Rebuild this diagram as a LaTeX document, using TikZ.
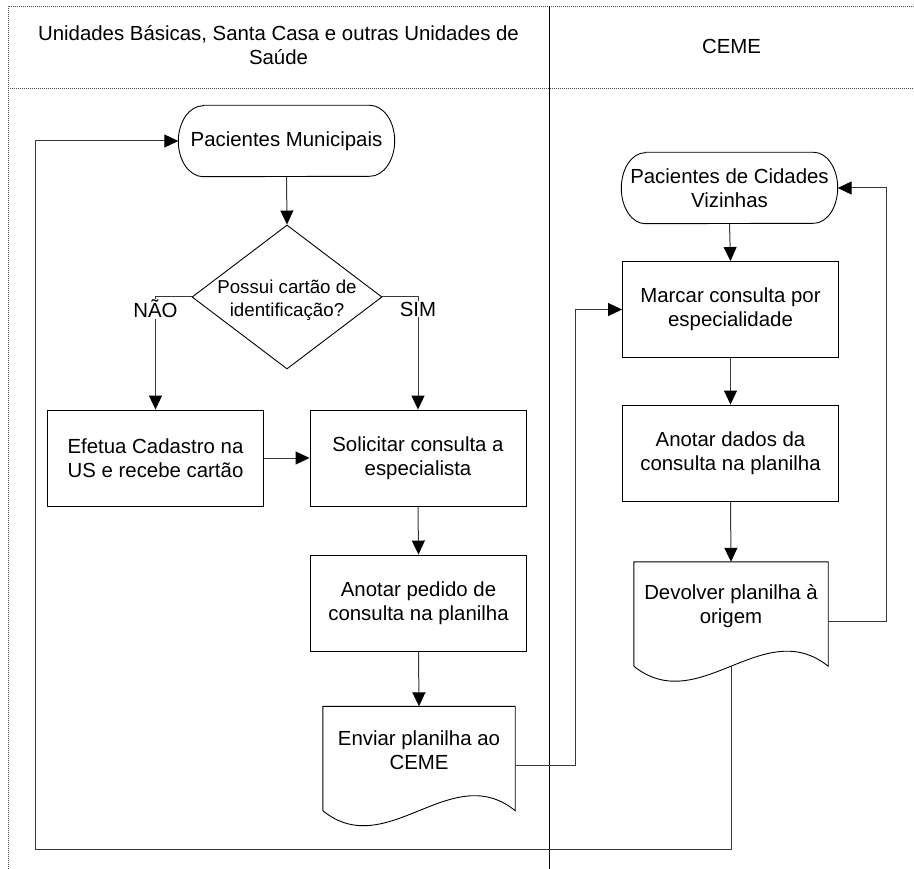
\documentclass[tikz,border=0pt]{standalone}
\usepackage{fontspec}
\setmainfont{Liberation Sans}
\usetikzlibrary{arrows.meta,shapes.geometric,calc}

\begin{document}
\begin{tikzpicture}[x=1pt,y=-1pt,
  font=\fontsize{20.4}{24}\selectfont,
  shp/.style={draw=black, line width=0.9pt},
  conn/.style={draw=black!78, line width=1pt},
  arr/.style={conn, -{Triangle[length=14pt,width=13pt,fill=black,color=black]}},
  lane/.style={draw=black!70, line width=0.9pt, dash pattern=on 1pt off 1pt},
  proc/.style={shp, rectangle, minimum width=216pt, minimum height=96pt,
    align=center, inner sep=0pt},
  termtext/.style={rectangle, minimum width=216pt, minimum height=71pt,
    align=center, inner sep=0pt},
  doctext/.style={rectangle, minimum height=88pt, align=center, inner sep=0pt},
  dec/.style={shp, diamond, minimum width=190pt, minimum height=144pt, inner sep=0pt},
  dectext/.style={align=center, font=\fontsize{18.7}{23}\selectfont},
  lbl/.style={fill=white, inner sep=1pt},
]
\useasboundingbox (0,0) rectangle (914,869);

% swimlane frame
\draw[lane] (8,869) -- (8,6) -- (914,6);
\draw[lane] (8,88) -- (914,88);
\draw[black, line width=0.9pt] (549,6) -- (549,869);
\node[align=center] (laneA) at (278.5,45.5) {Unidades Básicas, Santa Casa e outras Unidades de\\Saúde};
\node (laneB) at (731.5,46) {CEME};

% left lane
\node[termtext] (pm) at (286.5,141) {Pacientes Municipais};
\draw[shp] ($(pm.north west)+(25,0)$) -- ($(pm.north east)+(-25,0)$)
  arc[start angle=90, end angle=-90, x radius=25pt, y radius=35.5pt]
  -- ($(pm.south west)+(25,0)$)
  arc[start angle=270, end angle=90, x radius=25pt, y radius=35.5pt] -- cycle;

\node[dec, label={[dectext, yshift=-3pt]center:Possui cartão de\\identificação?}] (card) at (287,297) {};

\node[proc] (cad) at (155.5,458) {Efetua Cadastro na\\US e recebe cartão};
\node[proc] (sol) at (418,458) {Solicitar consulta a\\especialista};
\node[proc] (ped) at (418.5,603) {Anotar pedido de\\consulta na planilha};

\node[doctext, minimum width=192pt] (env) at (419,750.5) {Enviar planilha ao\\CEME};
\draw[shp] ($(env.south west)+(0,16)$) -- (env.north west) -- (env.north east)
  -- ($(env.south east)+(0,16)$)
  .. controls +(-64,-52) and +(64,52) .. ($(env.south west)+(0,16)$);

% right lane
\node[termtext] (pcv) at (729.5,188) {Pacientes de Cidades\\Vizinhas};
\draw[shp] ($(pcv.north west)+(24,0)$) -- ($(pcv.north east)+(-24,0)$)
  arc[start angle=90, end angle=-90, x radius=24pt, y radius=35.5pt]
  -- ($(pcv.south west)+(24,0)$)
  arc[start angle=270, end angle=90, x radius=24pt, y radius=35.5pt] -- cycle;

\node[proc] (mar) at (730.5,309.5) {Marcar consulta por\\especialidade};
\node[proc] (dad) at (730.5,453) {Anotar dados da\\consulta na planilha};

\node[doctext, minimum width=194pt] (dev) at (731,606) {Devolver planilha à\\origem};
\draw[shp] ($(dev.south west)+(0,16)$) -- (dev.north west) -- (dev.north east)
  -- ($(dev.south east)+(0,16)$)
  .. controls +(-65,-52) and +(65,52) .. ($(dev.south west)+(0,16)$);

% connector end points
\coordinate (envout) at ($(env.east)+(0,15)$);
\coordinate (devout) at ($(dev.east)+(0,15)$);
\coordinate (devbot) at ($(dev.south)+(0,16)$);
\coordinate (busM) at (575,0);
\coordinate (busR) at (886,0);
\coordinate (loopC) at (35,849);

% connectors
\draw[arr] (pm.south) -- (card.north);
\draw[arr] (card.west) -| (cad.north);
\draw[arr] (card.east) -| (sol.north);
\node[lbl] (nao) at (155.5,309) {NÃO};
\node[lbl] (sim) at (418,309) {SIM};
\draw[arr] (cad.east) -- (sol.west);
\draw[arr] (sol.south) -- (ped.north);
\draw[arr] (ped.south) -- (env.north);
\draw[arr] (envout) -- (envout -| busM) |- (mar.west);
\draw[arr] (pcv.south) -- (mar.north);
\draw[arr] (mar.south) -- (dad.north);
\draw[arr] (dad.south) -- (dev.north);
\draw[arr] (devout) -- (devout -| busR) |- (pcv.east);
\draw[arr] (devbot) |- (loopC) |- (pm.west);
\end{tikzpicture}
\end{document}
